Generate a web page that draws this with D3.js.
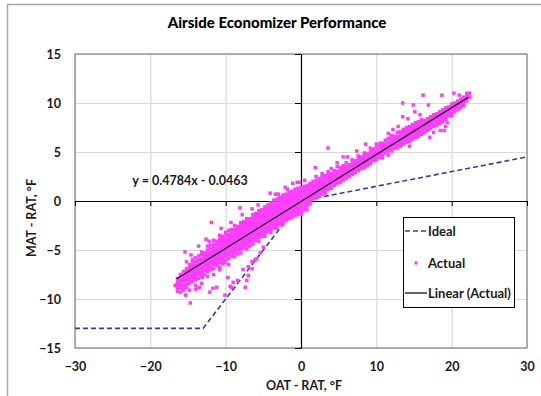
<!DOCTYPE html>
<html><head><meta charset="utf-8">
<script src="https://cdn.jsdelivr.net/npm/d3@7"></script>
<style>
html,body{margin:0;padding:0;background:#fff;}
svg{display:block;font-family:Lato,"Open Sans",sans-serif;}
</style></head>
<body><svg id="c" width="541" height="396"></svg>
<script>
// ---- data ----
const title = "Airside Economizer Performance";
const xLabel = "OAT - RAT, °F";
const yLabel = "MAT - RAT, °F";
const xTicks = [-30, -20, -10, 0, 10, 20, 30];
const yTicks = [-15, -10, -5, 0, 5, 10, 15];
const idealX = [-30, -13, 0, 30];
const idealY = [-13, -13, 0, 4.5];
const trendSlope = 0.4784, trendIntercept = -0.0463;
const trendRange = [-16.5, 22.2];
const equationText = "y = 0.4784x - 0.0463";
const legendLabels = ["Ideal", "Actual", "Linear (Actual)"];
// Actual: dense band, column x positions and the y values read in each column
const bandX = [-16.4,-16.0,-15.6,-15.2,-14.8,-14.4,-14.0,-13.6,-13.2,-12.8,-12.4,-12.0,-11.6,-11.2,-10.8,-10.4,-10.0,-9.6,-9.2,-8.8,-8.4,-8.0,-7.6,-7.2,-6.8,-6.4,-6.0,-5.6,-5.2,-4.8,-4.4,-4.0,-3.6,-3.2,-2.8,-2.4,-2.0,-1.6,-1.2,-0.8,-0.4,0.0,0.4,0.8,1.2,1.6,2.0,2.4,2.8,3.2,3.6,4.0,4.4,4.8,5.2,5.6,6.0,6.4,6.8,7.2,7.6,8.0,8.4,8.8,9.2,9.6,10.0,10.4,10.8,11.2,11.6,12.0,12.4,12.8,13.2,13.6,14.0,14.4,14.8,15.2,15.6,16.0,16.4,16.8,17.2,17.6,18.0,18.4,18.8,19.2,19.6,20.0,20.4,20.8,21.2,21.6,22.0,22.4];
const bandY = [
 [-7.9,-8.3,-8.6,-8.9,-9.2],
 [-7.5,-7.9,-8.2,-8.5,-8.8,-9.3],
 [-7.2,-7.6,-7.9,-8.2,-8.6,-9.0],
 [-6.2,-6.9,-7.2,-7.5,-7.8,-8.1,-8.5,-8.8],
 [-6.5,-6.8,-7.1,-7.4,-7.7,-8.0,-8.4,-9.1],
 [-6.0,-6.3,-6.6,-6.9,-7.2,-7.5,-7.8,-8.2],
 [-5.8,-6.2,-6.5,-6.8,-7.1,-7.4,-7.7,-8.0,-8.6],
 [-5.6,-6.0,-6.3,-6.6,-6.9,-7.2,-7.5,-7.9],
 [-5.2,-5.5,-5.9,-6.2,-6.5,-6.8,-7.1,-7.4,-7.7,-8.4],
 [-5.3,-5.6,-5.9,-6.2,-6.5,-6.8,-7.1,-7.5],
 [-4.6,-5.0,-5.3,-5.6,-5.9,-6.2,-6.5,-6.8,-7.2,-7.7],
 [-4.5,-4.9,-5.2,-5.5,-5.8,-6.1,-6.4,-6.7,-7.0],
 [-4.0,-4.4,-4.7,-5.0,-5.3,-5.6,-5.9,-6.2,-6.5,-6.9,-7.5],
 [-4.1,-4.4,-4.8,-5.1,-5.4,-5.7,-6.0,-6.3,-6.6],
 [-3.5,-3.9,-4.2,-4.5,-4.8,-5.1,-5.4,-5.7,-6.0,-6.3,-6.8],
 [-3.6,-3.9,-4.2,-4.5,-4.8,-5.1,-5.4,-5.7,-6.0,-6.4],
 [-3.2,-3.5,-3.9,-4.2,-4.5,-4.8,-5.1,-5.4,-5.7,-6.1],
 [-3.0,-3.4,-3.7,-4.0,-4.3,-4.6,-4.9,-5.2,-5.5,-5.9,-6.5],
 [-2.9,-3.2,-3.5,-3.8,-4.1,-4.4,-4.7,-5.0,-5.3,-5.6],
 [-2.5,-2.9,-3.2,-3.5,-3.8,-4.1,-4.4,-4.7,-5.0,-5.3,-5.7],
 [-2.6,-2.9,-3.2,-3.5,-3.8,-4.1,-4.4,-4.7,-5.0,-5.4],
 [-2.2,-2.5,-2.8,-3.1,-3.4,-3.7,-4.0,-4.3,-4.6,-4.9,-5.3],
 [-2.1,-2.4,-2.7,-3.0,-3.3,-3.6,-3.9,-4.2,-4.5,-4.8],
 [-1.8,-2.1,-2.4,-2.7,-3.0,-3.3,-3.6,-3.9,-4.2,-4.5,-4.9],
 [-1.8,-2.1,-2.4,-2.7,-3.0,-3.3,-3.6,-3.9,-4.2,-4.6],
 [-1.4,-1.7,-2.0,-2.3,-2.6,-2.9,-3.2,-3.5,-3.8,-4.1,-4.4],
 [-1.3,-1.6,-1.9,-2.2,-2.5,-2.8,-3.1,-3.4,-3.7,-4.0],
 [-1.0,-1.3,-1.6,-1.9,-2.2,-2.5,-2.8,-3.1,-3.4,-3.7,-4.1],
 [-0.9,-1.2,-1.5,-1.8,-2.1,-2.4,-2.7,-3.0,-3.3,-3.6],
 [-0.6,-0.9,-1.2,-1.5,-1.8,-2.1,-2.4,-2.7,-3.0,-3.3,-3.6],
 [-0.4,-0.7,-1.0,-1.3,-1.6,-1.9,-2.2,-2.5,-2.8,-3.1],
 [-0.2,-0.5,-0.8,-1.1,-1.4,-1.7,-2.0,-2.3,-2.6,-2.9,-3.2],
 [0.1,-0.3,-0.6,-0.9,-1.2,-1.5,-1.8,-2.1,-2.4,-2.7],
 [0.2,-0.1,-0.4,-0.7,-1.0,-1.3,-1.6,-1.9,-2.2,-2.5,-2.8],
 [0.4,0.1,-0.2,-0.5,-0.8,-1.1,-1.4,-1.7,-2.0,-2.3],
 [0.6,0.3,0.0,-0.3,-0.6,-0.9,-1.2,-1.5,-1.8,-2.1,-2.4],
 [0.7,0.4,0.1,-0.2,-0.5,-0.8,-1.1,-1.4,-1.7,-2.0],
 [0.9,0.6,0.3,0.0,-0.3,-0.6,-0.9,-1.2,-1.5,-1.8],
 [1.0,0.7,0.4,0.1,-0.2,-0.5,-0.8,-1.1,-1.4,-1.7],
 [1.2,0.9,0.6,0.3,0.0,-0.3,-0.6,-0.9,-1.2,-1.5],
 [1.3,1.0,0.7,0.4,0.1,-0.2,-0.5,-0.8,-1.1,-1.4],
 [1.4,1.1,0.8,0.5,0.2,-0.1,-0.4,-0.7,-1.0,-1.3],
 [1.5,1.2,0.9,0.6,0.3,0.0,-0.3,-0.6,-0.9],
 [1.6,1.3,1.0,0.7,0.4,0.1,-0.2,-0.5,-0.9],
 [1.8,1.5,1.2,0.9,0.6,0.3,0.0,-0.3],
 [2.0,1.7,1.4,1.1,0.8,0.5,0.2],
 [2.5,2.1,1.8,1.5,1.2,0.9,0.6,0.3],
 [2.3,2.0,1.7,1.4,1.1,0.8,0.5],
 [2.8,2.5,2.2,1.9,1.6,1.3,1.0,0.7],
 [2.6,2.3,2.0,1.7,1.4,1.1,0.8],
 [3.0,2.7,2.4,2.1,1.8,1.5,1.2],
 [3.3,2.8,2.5,2.2,1.9,1.6,1.3],
 [3.1,2.8,2.5,2.2,1.9,1.6],
 [3.5,3.0,2.7,2.4,2.1,1.8],
 [3.4,3.1,2.8,2.5,2.2,1.9],
 [3.6,3.3,3.0,2.7,2.4,2.1],
 [3.9,3.5,3.2,2.9,2.6,2.3],
 [3.7,3.4,3.1,2.8,2.5],
 [4.2,3.9,3.6,3.3,3.0,2.7],
 [4.1,3.8,3.5,3.2,2.9],
 [4.6,4.3,4.0,3.7,3.4,3.1],
 [4.5,4.2,3.9,3.6,3.3],
 [4.9,4.6,4.3,4.0,3.7,3.4],
 [4.8,4.5,4.2,3.9,3.6],
 [5.4,5.0,4.7,4.4,4.1,3.8],
 [5.3,5.0,4.7,4.4,4.1],
 [5.8,5.5,5.1,4.8,4.5,4.2],
 [5.6,5.3,5.0,4.7,4.4],
 [5.9,5.6,5.3,5.0,4.7,4.4],
 [6.2,5.8,5.5,5.2,4.9],
 [6.4,6.0,5.7,5.4,5.1,4.7],
 [6.7,6.3,6.0,5.7,5.4,5.1],
 [6.6,6.3,6.0,5.7,5.4],
 [7.0,6.6,6.3,6.0,5.7,5.4],
 [7.1,6.8,6.5,6.2,5.9,5.6],
 [7.3,7.0,6.7,6.4,6.1,5.8],
 [7.5,7.2,6.9,6.6,6.3,6.0],
 [7.6,7.3,7.0,6.7,6.4,6.1,5.6],
 [7.8,7.5,7.2,6.9,6.6,6.3],
 [8.0,7.7,7.4,7.1,6.8,6.5],
 [8.1,7.8,7.5,7.2,6.9,6.6],
 [8.3,8.0,7.7,7.4,7.1,6.8],
 [8.2,7.9,7.6,7.3,7.0],
 [8.4,8.1,7.8,7.5,7.2],
 [8.6,8.3,8.0,7.7,7.4],
 [8.8,8.5,8.2,7.9,7.6,7.0],
 [8.9,8.6,8.3,8.0,7.7],
 [9.1,8.8,8.5,8.2,7.9],
 [9.3,9.0,8.7,8.4,8.1],
 [9.5,9.2,8.9,8.6,8.3,7.6],
 [9.6,9.3,9.0,8.7],
 [9.9,9.6,9.3,9.0,8.7],
 [10.0,9.7,9.4,9.1],
 [10.2,9.9,9.6,9.3],
 [10.4,10.1,9.8,9.5],
 [10.6,10.3,10.0,9.7],
 [10.8,10.5,10.2],
 [11.0,10.6]
];
// Actual: scattered points away from the band
const outlierX = [3.6,13.5,14.9,15.1,15.8,16.2,16.9,17.4,18.7,20.3,22.0,13.5,12.9,11.6,10.5,9.4,5.6,1.9,0.5,14.2,12.2,8.6,7.4,6.2,4.8,-0.5,19.0,18.5,17.1,19.4,21.0,
  -11.9,-8.1,-5.7,-4.1,-2.1,-1.1,-16.3,-15.7,-16.7,-13.1,-11.7,-9.7,-9.2,-9.0,-7.7,-7.0,-6.5,-6.1,-7.2,-5.4,-10.8,-10.1,-14.7,-12.1,-11.2,-7.4,-8.4,-9.4,-5.0,-5.9,-6.5,-7.0,-10.1,-15.3,-14.0,-13.5,-13.6,-12.6,-10.6,-9.3,-7.8,-6.5,-3.4,-14.6,-12.2,-15.4,-3.0,-1.8,-0.2];
const outlierY = [5.4,10.0,9.8,9.1,8.8,10.8,9.8,8.1,10.8,11.0,11.0,8.6,7.6,6.9,5.9,5.2,4.5,3.4,2.1,8.4,7.3,5.8,5.1,4.5,3.9,1.9,7.2,7.2,6.5,8.0,10.8,
  -2.2,-0.7,-0.4,0.8,1.4,1.8,-8.1,-9.1,-8.6,-7.8,-8.9,-7.8,-8.8,-8.3,-7.0,-6.7,-6.2,-6.0,-8.1,-5.3,-7.0,-6.3,-10.4,-9.3,-8.8,-8.8,-8.1,-8.7,-4.7,-5.9,-6.9,-7.6,-9.6,-9.6,-9.0,-8.8,-4.6,-3.9,-2.8,-2.2,-1.4,-0.8,0.7,-5.5,-4.1,-5.2,0.7,1.2,1.9];

// ---- chart ----
const svg = d3.select("#c");
const plot = {l: 75, r: 527, t: 54, b: 348};
const x = d3.scaleLinear().domain([-30, 30]).range([plot.l, plot.r]);
const y = d3.scaleLinear().domain([-15, 15]).range([plot.b, plot.t]);
const magenta = "#ff3dff", navy = "#3c3c9c", txt = "#1a1a1a";
const ps = 3.5;

// chart area frame
svg.append("rect").attr("x", 7.5).attr("y", 4.5).attr("width", 545).attr("height", 410)
  .attr("fill", "#fff").attr("stroke", "#a6a6a6").attr("stroke-width", 1.5);

// gridlines
const gx = svg.append("g").attr("transform", `translate(0,${plot.b})`)
  .call(d3.axisBottom(x).tickValues(xTicks).tickSize(-(plot.b - plot.t)).tickFormat(""));
gx.selectAll("line").attr("stroke", "#d9d9d9").attr("stroke-width", 1.2);
gx.select(".domain").remove();
const gy = svg.append("g").attr("transform", `translate(${plot.l},0)`)
  .call(d3.axisLeft(y).tickValues(yTicks).tickSize(-(plot.r - plot.l)).tickFormat(""));
gy.selectAll("line").attr("stroke", "#d9d9d9").attr("stroke-width", 1.2);
gy.select(".domain").remove();

// plot border
svg.append("rect").attr("x", plot.l).attr("y", plot.t).attr("width", plot.r - plot.l).attr("height", plot.b - plot.t)
  .attr("fill", "none").attr("stroke", "#8c8c8c").attr("stroke-width", 1.3);

// zero axes with ticks
const ax0 = svg.append("g").attr("transform", `translate(0,${y(0)})`)
  .call(d3.axisBottom(x).tickValues(xTicks).tickSize(5).tickSizeOuter(0).tickFormat(""));
ax0.selectAll("line").attr("stroke", "#000");
ax0.select(".domain").attr("stroke", "#000").attr("stroke-width", 1.2);
const ay0 = svg.append("g").attr("transform", `translate(${x(0)},0)`)
  .call(d3.axisLeft(y).tickValues(yTicks).tickSize(6).tickSizeOuter(0).tickFormat(""));
ay0.selectAll("line").attr("stroke", "#000");
ay0.select(".domain").attr("stroke", "#000").attr("stroke-width", 1.2);

// tick labels
const lx = svg.append("g").attr("transform", `translate(0,${plot.b + 4})`)
  .call(d3.axisBottom(x).tickValues(xTicks).tickSize(0).tickPadding(10));
lx.select(".domain").remove();
lx.selectAll("text").attr("font-family", "Lato").attr("font-size", 12.5).attr("font-weight", "bold").attr("fill", txt);
const ly = svg.append("g").attr("transform", `translate(${plot.l - 14},0)`)
  .call(d3.axisLeft(y).tickValues(yTicks).tickSize(0).tickPadding(0));
ly.select(".domain").remove();
ly.selectAll("text").attr("font-family", "Lato").attr("font-size", 12.5).attr("font-weight", "bold").attr("fill", txt);

// clip for data
svg.append("clipPath").attr("id", "pc").append("rect")
  .attr("x", plot.l).attr("y", plot.t).attr("width", plot.r - plot.l).attr("height", plot.b - plot.t);
const data = svg.append("g").attr("clip-path", "url(#pc)");

// ideal line
const idealPts = idealX.map((v, i) => [v, idealY[i]]);
data.append("path").datum(idealPts)
  .attr("d", d3.line().x(d => x(d[0])).y(d => y(d[1])))
  .attr("fill", "none").attr("stroke", navy).attr("stroke-width", 1.6).attr("stroke-dasharray", "5,3");

// actual points
const pts = [];
bandX.forEach((bx, i) => bandY[i].forEach(v => pts.push([bx, v])));
outlierX.forEach((ox, i) => pts.push([ox, outlierY[i]]));
data.append("g").selectAll("rect").data(pts).join("rect")
  .attr("x", d => x(d[0]) - ps / 2).attr("y", d => y(d[1]) - ps / 2)
  .attr("width", ps).attr("height", ps).attr("fill", magenta);

// trendline
data.append("path").datum(trendRange.map(v => [v, trendSlope * v + trendIntercept]))
  .attr("d", d3.line().x(d => x(d[0])).y(d => y(d[1])))
  .attr("stroke", "#111").attr("stroke-width", 1.3);

// equation
svg.append("text").attr("x", 190).attr("y", 185).attr("text-anchor", "middle")
  .attr("font-size", 12.5).attr("font-weight", "bold").attr("fill", txt).text(equationText);

// title
svg.append("text").attr("x", 277).attr("y", 28).attr("text-anchor", "middle")
  .attr("font-size", 15).attr("font-weight", "900").attr("fill", "#000").text(title);

// axis titles
svg.append("text").attr("x", 304).attr("y", 390).attr("text-anchor", "middle")
  .attr("font-size", 12.5).attr("font-weight", "bold").attr("fill", txt).text(xLabel);
svg.append("text").attr("transform", `translate(36,218) rotate(-90)`).attr("text-anchor", "middle")
  .attr("font-size", 12.5).attr("font-weight", "bold").attr("fill", txt).text(yLabel);

// legend
const lg = svg.append("g");
lg.append("rect").attr("x", 403.5).attr("y", 217.5).attr("width", 111).attr("height", 90)
  .attr("fill", "#fff").attr("stroke", "#000").attr("stroke-width", 1);
const rowsY = [231, 263, 293];
lg.append("line").attr("x1", 405).attr("x2", 427).attr("y1", rowsY[0]).attr("y2", rowsY[0])
  .attr("stroke", navy).attr("stroke-width", 1.6).attr("stroke-dasharray", "5,3");
lg.append("rect").attr("x", 414.5).attr("y", rowsY[1] - 1.5).attr("width", 3).attr("height", 3).attr("fill", magenta);
lg.append("line").attr("x1", 405).attr("x2", 427).attr("y1", rowsY[2]).attr("y2", rowsY[2])
  .attr("stroke", "#111").attr("stroke-width", 1.3);
lg.selectAll("text.lab").data(legendLabels).join("text").attr("class", "lab")
  .attr("x", 428).attr("y", (d, i) => rowsY[i]).attr("dy", "0.35em")
  .attr("font-size", 13).attr("font-weight", "bold").attr("fill", txt).text(d => d);
</script></body></html>
